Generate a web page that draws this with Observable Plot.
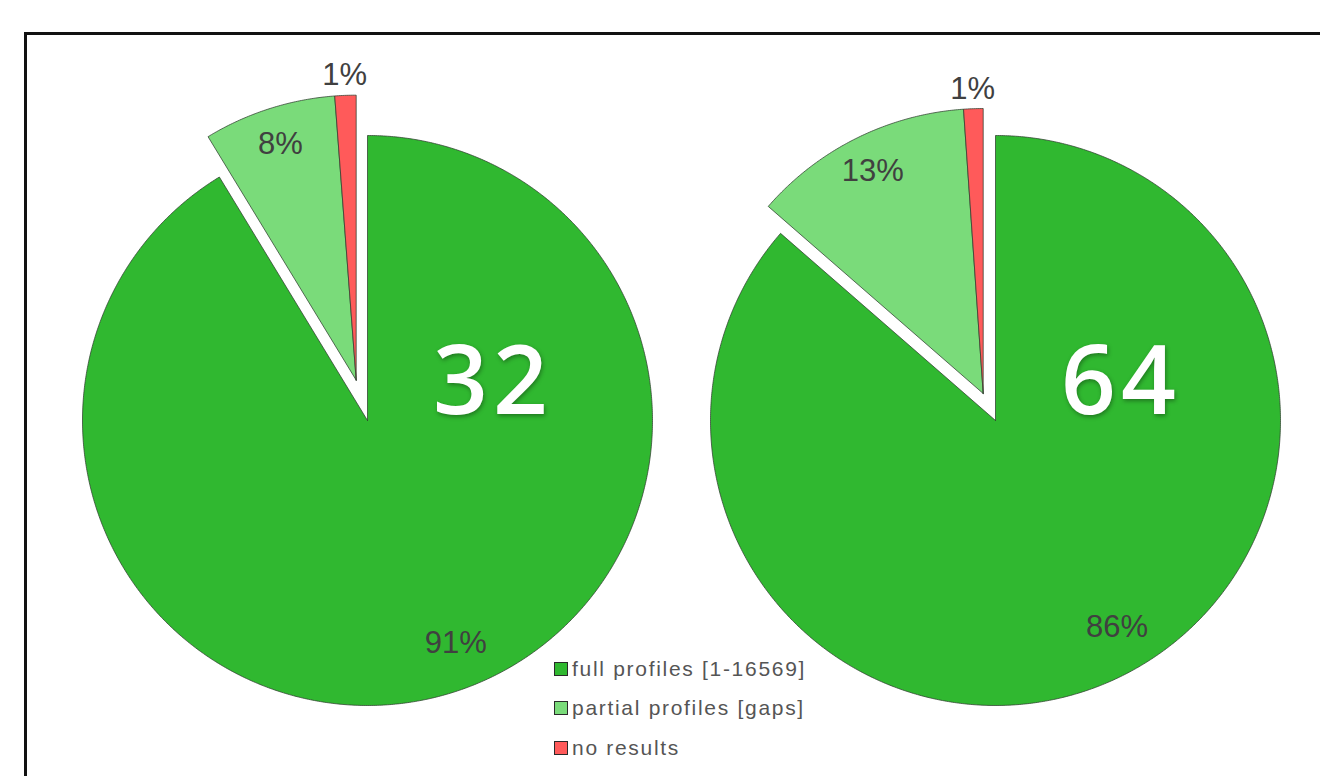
<!DOCTYPE html>
<html>
<head>
<meta charset="utf-8">
<script src="https://cdn.jsdelivr.net/npm/d3@7"></script>
<script src="https://cdn.jsdelivr.net/npm/@observablehq/plot@0.6"></script>
<style>
  html, body { margin: 0; padding: 0; background: #fff; overflow: hidden; }
  #wrap { position: relative; width: 1320px; height: 776px; overflow: hidden; }
  #frame { position: absolute; left: 24px; top: 32px; width: 1400px; height: 900px;
           border: 3px solid #111; box-sizing: border-box; }
  #chart { position: absolute; left: 0; top: 0; }
  #chart g[font-size="96"] { filter: drop-shadow(1px 2px 2px rgba(0,0,0,0.35)); }
  #chart g[font-size="96"] text { letter-spacing: 5px; }
  #legend { position: absolute; left: 554px; top: 649px; font-family: "Liberation Sans", Arial, sans-serif;
            font-size: 21px; color: #555; letter-spacing: 1.7px; }
  .row { height: 39.5px; display: flex; align-items: center; }
  .sw { width: 12px; height: 12px; border: 1.8px solid #2a2a2a; margin-right: 4px; flex: none; }
</style>
</head>
<body>
<div id="wrap">
  <div id="frame"></div>
  <div id="chart"></div>
  <div id="legend"></div>
</div>
<script>
// ---- data ----
const categories = ["full profiles [1-16569]", "partial profiles [gaps]", "no results"];
const colors = ["#30b830", "#7adb7a", "#ff5a5a"];
const pieNames = ["32", "64"];
const shares32 = [91.3, 7.5, 1.2];
const shares64 = [86.4, 12.5, 1.1];
const labels32 = ["91%", "8%", "1%"];
const labels64 = ["86%", "13%", "1%"];

// ---- layout (unit = pie radius) ----
const W = 1320, H = 776, Rpx = 285;
const pieCenterX = [0, 628 / Rpx];
const explode = [0.147, 0.104];
const xDomain = [-367 / Rpx, (W - 367) / Rpx];
const yDomain = [-(H - 420) / Rpx, 420 / Rpx];

const pies = [
  {name: pieNames[0], shares: shares32, labels: labels32},
  {name: pieNames[1], shares: shares64, labels: labels64}
];

const rad = a => a * Math.PI / 180;
const slicePts = [];
const pctText = [];
const bigText = [];

pies.forEach((pie, p) => {
  const cx = pieCenterX[p], cy = 0;
  const total = d3.sum(pie.shares);
  const groupStart = pie.shares[0] / total * 360;
  const gb = (groupStart + 360) / 2;
  const off = [explode[p] * Math.sin(rad(gb)), explode[p] * Math.cos(rad(gb))];
  let cum = 0;
  pie.shares.forEach((s, k) => {
    const a0 = cum / total * 360;
    cum += s;
    const a1 = cum / total * 360;
    const o = k === 0 ? [0, 0] : off;
    const ox = cx + o[0], oy = cy + o[1];
    const id = p + "-" + k;
    slicePts.push({id, cat: categories[k], x: ox, y: oy});
    const n = Math.max(2, Math.ceil((a1 - a0) / 0.4));
    for (let i = 0; i <= n; i++) {
      const a = rad(a0 + (a1 - a0) * i / n);
      slicePts.push({id, cat: categories[k], x: ox + Math.sin(a), y: oy + Math.cos(a)});
    }
    slicePts.push({id, cat: categories[k], x: ox, y: oy});
    const mid = (a0 + a1) / 2;
    const la = k === 0 ? mid - 6 : mid;
    const lr = k === 0 ? 0.84 : k === 1 ? 0.87 : 1.07;
    pctText.push({x: ox + lr * Math.sin(rad(la)), y: oy + lr * Math.cos(rad(la)), text: pie.labels[k]});
  });
  bigText.push({x: cx + 0.44, y: cy + 0.13, text: pie.name});
});

const chart = Plot.plot({
  width: W, height: H,
  margin: 0,
  x: {domain: xDomain, axis: null},
  y: {domain: yDomain, axis: null},
  color: {domain: categories, range: colors},
  style: {background: "transparent"},
  marks: [
    Plot.line(slicePts, {x: "x", y: "y", z: "id", fill: "cat", stroke: "#2f3f2f",
      strokeOpacity: 0.75, strokeWidth: 1, curve: "linear"}),
    Plot.text(pctText, {x: "x", y: "y", text: "text", fontSize: 31, fill: "#404040",
      fontFamily: "Liberation Sans, Arial, sans-serif", lineAnchor: "middle"}),
    Plot.text(bigText, {x: "x", y: "y", text: "text", fontSize: 96, fill: "#ffffff",
      fontWeight: 600, fontFamily: "Open Sans, sans-serif", lineAnchor: "middle"})
  ]
});
document.getElementById("chart").appendChild(chart);

// legend
const leg = d3.select("#legend");
categories.forEach((c, i) => {
  const row = leg.append("div").attr("class", "row");
  row.append("div").attr("class", "sw").style("background", colors[i]);
  row.append("span").text(c);
});
</script>
</body>
</html>
